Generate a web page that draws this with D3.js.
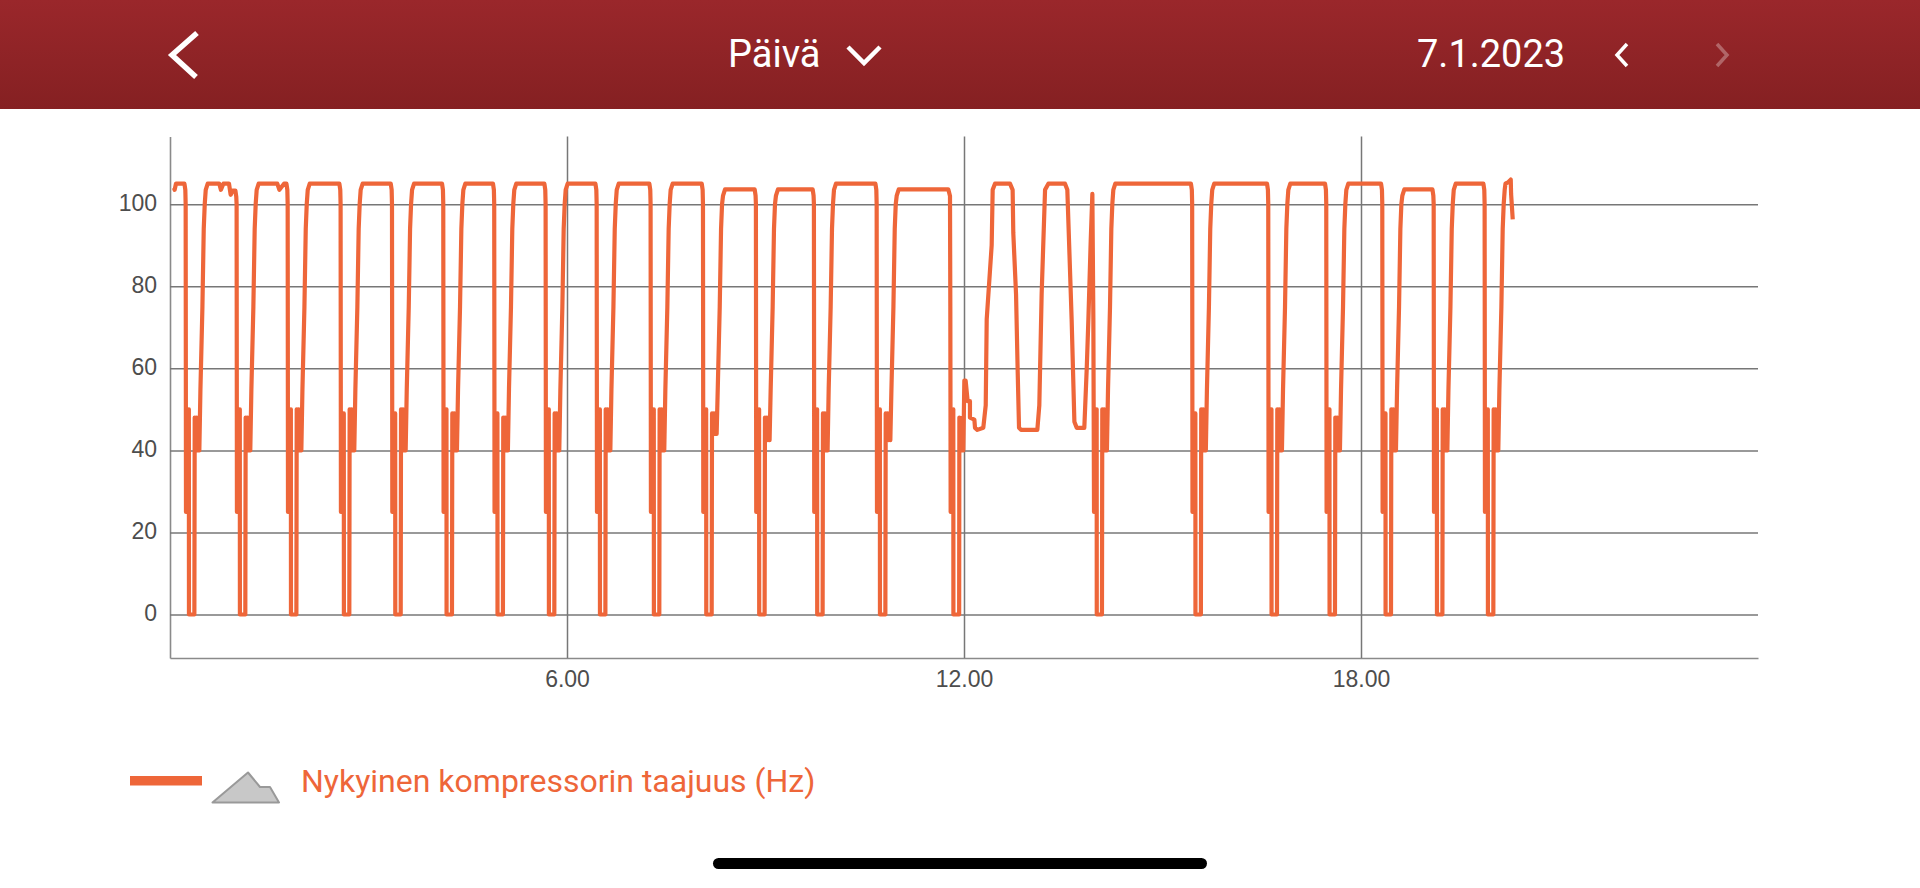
<!DOCTYPE html>
<html>
<head>
<meta charset="utf-8">
<title>Nykyinen kompressorin taajuus</title>
<script src="https://cdn.jsdelivr.net/npm/d3@7"></script>
<style>
    html, body { margin: 0; padding: 0; background: #fff; overflow: hidden; }
    svg { display: block; }
</style>
</head>
<body>
<svg width="1920" height="888"></svg>
<script>
// minutes since midnight, one row per compressor cycle
const minutes = [
    3.6,4.2,5.4,
    13.1,13.9,14.2,14.5,17.1,17.2,19.7,22.1,22.4,23.3,24.2,25.1,26,26.6,27.6,29.4,30.6,31.5,32.4,34.2,
    44.7,46.2,48.4,53.5,55,56.8,
    59.3,60.1,60.4,60.7,63.3,63.4,65.9,68.3,68.6,69.5,70.4,71.3,72.2,72.8,73.8,75.6,76.8,77.7,78.6,80.4,
    97.3,99.2,103.4,
    105.6,106.4,106.7,107,109.6,109.7,112.2,114.6,114.9,115.8,116.7,117.6,118.5,119.1,120.1,121.9,123.1,124,124.9,126.7,
    153.6,154.4,154.7,155,157.6,157.7,160.2,162.6,162.9,163.8,164.7,165.6,166.5,167.1,168.1,169.9,171.1,172,172.9,174.7,
    200.2,201,201.3,201.6,204.2,204.3,206.8,209.2,209.5,210.4,211.3,212.2,213.1,213.7,214.7,216.5,217.7,218.6,219.5,221.3,
    246.7,247.5,247.8,248.1,250.7,250.8,253.3,255.7,256,256.9,257.8,258.7,259.6,260.2,261.2,263,264.2,265.1,266,267.8,
    292.9,293.7,294,294.3,296.9,297,299.5,301.9,302.2,303.1,304,304.9,305.8,306.4,307.4,309.2,310.4,311.3,312.2,314,
    339.5,340.3,340.6,340.9,343.5,343.6,346.1,348.5,348.8,349.7,350.6,351.5,352.4,353,354,355.8,357,357.9,358.8,360.6,
    385.8,386.6,386.9,387.2,389.8,389.9,392.4,394.8,395.1,396,396.9,397.8,398.7,399.3,400.3,402.1,403.3,404.2,405.1,406.9,
    434.7,435.5,435.8,436.1,438.7,438.8,441.3,443.7,444,444.9,445.8,446.7,447.6,448.2,449.2,451,452.2,453.1,454,455.8,
    482.2,483,483.3,483.6,486.2,486.3,488.8,491.2,491.5,492.4,493.3,494.2,495.1,495.7,496.7,498.5,499.7,500.6,501.5,503.3,
    530.2,531,531.3,531.6,534.2,534.3,536.8,539.2,539.5,540.4,541.3,542.2,543.1,543.7,544.7,546.5,547.7,548.6,549.5,551.3,
    582.8,583.6,583.9,584.2,586.8,586.9,589.4,591.8,592.1,593,593.9,594.8,595.7,596.3,597.3,599.1,600.3,601.2,602.1,603.9,
    639.7,640.5,640.8,641.1,643.7,643.8,646.3,648.7,649,649.9,650.8,651.7,652.6,653.2,654.2,656,657.2,658.1,659,660.8,
    // around noon the pattern breaks up
    705.8,707.3,707.6,707.9,710.3,710.4,713.4,715.6,715.8,717,718.8,719.4,720.3,721.5,723.3,725.4,725.4,729.4,730,732.1,737.5,739.7,740.6,743.6,745.1,746,748.1,
    761.7,764.1,764.7,767.2,768.7,769.9,771.7,786.5,788.3,790.4,793.5,796.5,
    811.6,813.7,817.6,820.1,822.2,829.1,831.3,832.8,834.9,836.4,837.3,837.9,840.3,840.4,842.7,845.1,845.4,846.3,847.2,848.1,849,849.6,850.6,852.4,853.6,854.5,855.4,857.2,
    925.8,926.6,926.9,927.2,929.8,929.9,932.4,934.8,935.1,936,936.9,937.8,938.7,939.3,940.3,942.1,943.3,944.2,945.1,946.9,
    994.8,995.6,995.9,996.2,998.8,998.9,1001.4,1003.8,1004.1,1005,1005.9,1006.8,1007.7,1008.3,1009.3,1011.1,1012.3,1013.2,1014.1,1015.9,
    1047.4,1048.2,1048.5,1048.8,1051.4,1051.5,1054,1056.4,1056.7,1057.6,1058.5,1059.4,1060.3,1060.9,1061.9,1063.7,1064.9,1065.8,1066.7,1068.5,
    1098.2,1099,1099.3,1099.6,1102.2,1102.3,1104.8,1107.2,1107.5,1108.4,1109.3,1110.2,1111.1,1111.7,1112.7,1114.5,1115.7,1116.6,1117.5,1119.3,
    1144.8,1145.6,1145.9,1146.2,1148.8,1148.9,1151.4,1153.8,1154.1,1155,1155.9,1156.8,1157.7,1158.3,1159.3,1161.1,1162.3,1163.2,1164.1,1165.9,
    1191,1191.8,1192.1,1192.4,1195,1195.1,1197.6,1200,1200.3,1201.2,1202.1,1203,1203.9,1204.5,1205.5,1207.3,1208.5,1209.4,1210.3,
    1211,1213.7,1215.8,1216.1,1217.6
];

// compressor frequency in Hz, same rows as minutes
const hz = [
    104,103.5,105,
    105,103.5,100,25,50,0,0,0,48,40,48,40,47,40,55,75,94,100,103.5,105,
    105,103.5,105,105,102.3,103.3,
    103.3,101.8,100,25,50,0,0,0,48,40,48,40,47,40,55,75,94,100,103.5,105,
    105,103.5,105,
    105,103.5,100,25,50,0,0,0,50,40,50,40,49,40,55,75,94,100,103.5,105,
    105,103.5,100,25,49,0,0,0,50,40,50,40,49,40,55,75,94,100,103.5,105,
    105,103.5,100,25,49,0,0,0,50,40,50,40,49,40,55,75,94,100,103.5,105,
    105,103.5,100,25,50,0,0,0,49,40,49,40,48,40,55,75,94,100,103.5,105,
    105,103.5,100,25,49,0,0,0,48,40,48,40,47,40,55,75,94,100,103.5,105,
    105,103.5,100,25,50,0,0,0,49,40,49,40,48,40,55,75,94,100,103.5,105,
    105,103.5,100,25,50,0,0,0,50,40,50,40,49,40,55,75,94,100,103.5,105,
    105,103.5,100,25,50,0,0,0,50,40,50,40,49,40,55,75,94,100,103.5,105,
    105,103.5,100,25,50,0,0,0,49,44,49,44,48,44,55,75,94,100,102.1,103.6,
    103.6,102.1,100,25,50,0,0,0,48,42.5,48,42.5,47,42.5,55,75,94,100,102.1,103.6,
    103.6,102.1,100,25,50,0,0,0,49,40,49,40,48,40,55,75,94,100,103.5,105,
    105,103.5,100,25,50,0,0,0,49,42.5,49,42.5,48,42.5,55,75,94,100,102.1,103.6,
    103.6,102,75,25,50,0,0,0,48,40,48,40,57,57,52,52,48,47.5,45.5,45,45.5,51,72,84,90,103.5,105,
    105,103.5,93,78,59,45.5,45,45,51,78,103.5,105,
    105,103.5,72,47,45.5,45.5,60,72,91,102.5,72,25,50,0,0,0,50,40,50,40,49,40,55,75,94,100,103.5,105,
    105,103.5,100,25,49,0,0,0,50,40,50,40,49,40,55,75,94,100,103.5,105,
    105,103.5,100,25,50,0,0,0,50,40,50,40,49,40,55,75,94,100,103.5,105,
    105,103.5,100,25,50,0,0,0,48,40,48,40,47,40,55,75,94,100,103.5,105,
    105,103.5,100,25,49,0,0,0,50,40,50,40,49,40,55,75,94,100,102.1,103.6,
    103.6,102.1,100,25,50,0,0,0,50,40,50,40,49,40,55,75,94,100,103.5,105,
    105,103.5,100,25,50,0,0,0,50,40,50,40,49,40,55,75,94,100,103.5,
    105,105.4,106,102.5,96.3
];

const hzTicks = [0, 20, 40, 60, 80, 100];
const timeTicks = [360, 720, 1080];
const timeLabels = ["6.00", "12.00", "18.00"];
const legendLabel = "Nykyinen kompressorin taajuus (Hz)";
const rangeLabel = "Päivä";
const dateLabel = "7.1.2023";

const orange = "#ee6639";
const axisColor = "#777";

const svg = d3.select("svg");

const x = d3.scaleLinear().domain([0, 1440]).range([170, 1758]);
const y = d3.scaleLinear().domain([-10.6, 116.5]).range([658, 136.5]);

// header bar
const defs = svg.append("defs");
const headerFill = defs.append("linearGradient")
    .attr("id", "headerFill")
    .attr("x1", 0).attr("y1", 0).attr("x2", 0).attr("y2", 1);
headerFill.append("stop").attr("offset", "0%").attr("stop-color", "#9a272b");
headerFill.append("stop").attr("offset", "100%").attr("stop-color", "#852022");

svg.append("rect")
    .attr("width", 1920)
    .attr("height", 109)
    .attr("fill", "url(#headerFill)");

function chevron(d, width, opacity) {
    svg.append("path")
        .attr("d", d)
        .attr("fill", "none")
        .attr("stroke", "#fff")
        .attr("stroke-width", width)
        .attr("stroke-opacity", opacity);
}

chevron("M197,33L172,55L196,77", 5.5, 1);
chevron("M848,47L864,63L880,47", 4.5, 1);
chevron("M1627,44L1617,55L1627,66", 3.5, 1);
chevron("M1717,44L1727,55L1717,66", 3.5, 0.3);

svg.append("text")
    .attr("x", 728)
    .attr("y", 67)
    .attr("font-family", "Roboto")
    .attr("font-size", 38)
    .attr("fill", "#fff")
    .text(rangeLabel);

svg.append("text")
    .attr("x", 1417)
    .attr("y", 67)
    .attr("font-family", "Roboto")
    .attr("font-size", 38)
    .attr("fill", "#fff")
    .text(dateLabel);

// axes, ticks drawn across the plot as the grid
const yAxis = d3.axisLeft(y)
    .tickValues(hzTicks)
    .tickSizeInner(-1588)
    .tickSizeOuter(0)
    .tickPadding(13);

const xAxis = d3.axisBottom(x)
    .tickValues(timeTicks)
    .tickFormat((d, i) => timeLabels[i])
    .tickSizeInner(-521.5)
    .tickSizeOuter(0)
    .tickPadding(13);

const yAxisGroup = svg.append("g")
    .attr("transform", "translate(170,0)")
    .call(yAxis);

const xAxisGroup = svg.append("g")
    .attr("transform", "translate(0,658)")
    .call(xAxis);

[yAxisGroup, xAxisGroup].forEach(g => {
    g.attr("font-family", "'Liberation Sans'").attr("font-size", 23);
    g.selectAll("line").attr("stroke", axisColor).attr("stroke-width", 1.5);
    g.selectAll("path").attr("stroke", "#8a8a8a").attr("stroke-width", 1.6);
    g.selectAll("text").attr("fill", "#4d4d4d");
});
yAxisGroup.selectAll("text").attr("dy", "0.27em");

// the compressor line
const line = d3.line()
    .x(i => x(minutes[i]))
    .y(i => y(hz[i]));

svg.append("path")
    .datum(d3.range(minutes.length))
    .attr("d", line)
    .attr("fill", "none")
    .attr("stroke", orange)
    .attr("stroke-width", 4.2)
    .attr("stroke-linejoin", "round");

// legend
svg.append("rect")
    .attr("x", 130)
    .attr("y", 776)
    .attr("width", 72)
    .attr("height", 9.5)
    .attr("fill", orange);

svg.append("path")
    .attr("d", "M212.5,802.5L248,772.5L260,787L270,787L279,802.5Z")
    .attr("fill", "#c8c8c8")
    .attr("stroke", "#999")
    .attr("stroke-width", 2)
    .attr("stroke-linejoin", "round");

svg.append("text")
    .attr("x", 301)
    .attr("y", 792)
    .attr("font-family", "Roboto")
    .attr("font-size", 32)
    .attr("fill", orange)
    .text(legendLabel);

// home indicator
svg.append("rect")
    .attr("x", 713)
    .attr("y", 858)
    .attr("width", 494)
    .attr("height", 11)
    .attr("rx", 5.5)
    .attr("fill", "#000");
</script>
</body>
</html>
